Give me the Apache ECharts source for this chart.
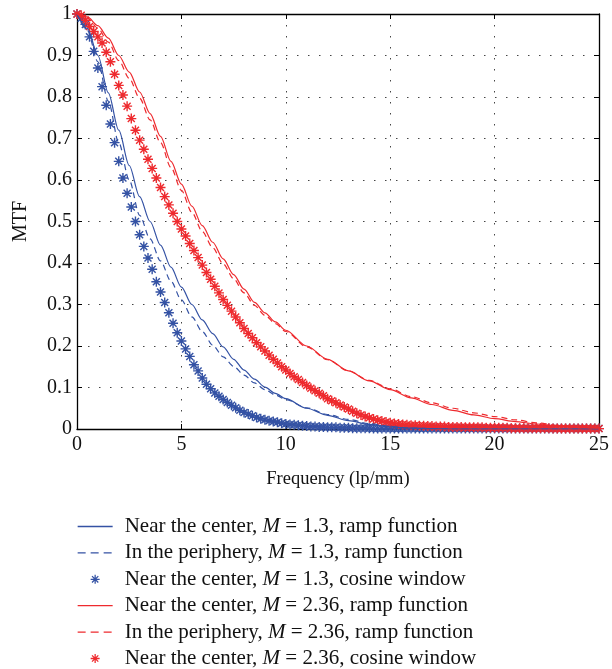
<!DOCTYPE html>
<html>
<head>
<meta charset="utf-8">
<script src="https://cdn.jsdelivr.net/npm/echarts@6/dist/echarts.min.js"></script>
<style>
html,body{margin:0;padding:0;background:#fff;}
#chart{width:612px;height:669px;}
</style>
</head>
<body>
<div id="chart"></div>
<script>
// ---- data ----
var seriesNames = [
  'Near the center, M = 1.3, ramp function',
  'In the periphery, M = 1.3, ramp function',
  'Near the center, M = 1.3, cosine window',
  'Near the center, M = 2.36, ramp function',
  'In the periphery, M = 2.36, ramp function',
  'Near the center, M = 2.36, cosine window'
];
var xTicks = [0, 5, 10, 15, 20, 25];
var yTicks = [0, 0.1, 0.2, 0.3, 0.4, 0.5, 0.6, 0.7, 0.8, 0.9, 1];

// ramp-function curves (frequency, MTF)
var lineFreq = [0, 0.5, 1, 1.5, 2, 2.5, 3, 3.5, 4, 4.5, 5, 5.5, 6, 6.5, 7, 7.5, 8, 8.5, 9, 9.5, 10,
  11, 12, 13, 14, 15, 16, 17, 18, 19, 20, 21, 22, 23, 24, 25];
var centerM13Ramp = [1, 0.965, 0.9, 0.81, 0.72, 0.635, 0.56, 0.5, 0.443, 0.39, 0.342, 0.3, 0.263, 0.23, 0.198, 0.168, 0.142, 0.12, 0.101, 0.086, 0.073,
  0.05, 0.033, 0.02, 0.011, 0.005, 0.002, 0.001, 0, 0, 0, 0, 0, 0, 0, 0];
var periphM13Ramp = [1, 0.96, 0.885, 0.79, 0.69, 0.6, 0.515, 0.458, 0.405, 0.356, 0.311, 0.27, 0.235, 0.202, 0.174, 0.151, 0.13, 0.111, 0.095, 0.082, 0.071,
  0.051, 0.035, 0.023, 0.013, 0.006, 0.002, 0.001, 0, 0, 0, 0, 0, 0, 0, 0];
var centerM236Ramp = [1, 0.993, 0.972, 0.942, 0.9, 0.86, 0.812, 0.76, 0.705, 0.645, 0.59, 0.537, 0.49, 0.45, 0.41, 0.372, 0.337, 0.305, 0.28, 0.258, 0.238,
  0.2, 0.168, 0.14, 0.116, 0.095, 0.075, 0.059, 0.045, 0.034, 0.025, 0.018, 0.012, 0.007, 0.004, 0.002];
var periphM236Ramp = [1, 0.99, 0.966, 0.932, 0.888, 0.845, 0.797, 0.745, 0.69, 0.63, 0.575, 0.522, 0.476, 0.437, 0.398, 0.362, 0.328, 0.298, 0.274, 0.254, 0.235,
  0.198, 0.167, 0.14, 0.117, 0.097, 0.078, 0.063, 0.05, 0.039, 0.03, 0.022, 0.015, 0.009, 0.005, 0.003];

// cosine-window samples (frequency, MTF)
var starFreq = [0,0.2,0.4,0.6,0.8,1,1.2,1.4,1.6,1.8,2,2.2,2.4,2.6,2.8,3,3.2,3.4,3.6,3.8,
  4,4.2,4.4,4.6,4.8,5,5.2,5.4,5.6,5.8,6,6.2,6.4,6.6,6.8,7,7.2,7.4,7.6,7.8,
  8,8.2,8.4,8.6,8.8,9,9.2,9.4,9.6,9.8,10,10.2,10.4,10.6,10.8,11,11.2,11.4,11.6,11.8,
  12,12.2,12.4,12.6,12.8,13,13.2,13.4,13.6,13.8,14,14.2,14.4,14.6,14.8,15,15.2,15.4,15.6,15.8,
  16,16.2,16.4,16.6,16.8,17,17.2,17.4,17.6,17.8,18,18.2,18.4,18.6,18.8,19,19.2,19.4,19.6,19.8,
  20,20.2,20.4,20.6,20.8,21,21.2,21.4,21.6,21.8,22,22.2,22.4,22.6,22.8,23,23.2,23.4,23.6,23.8,
  24,24.2,24.4,24.6,24.8,25];
var centerM13Cos = [1,0.99,0.975,0.945,0.91,0.87,0.825,0.78,0.735,0.69,0.645,0.605,0.568,0.535,0.5,0.468,0.44,0.412,0.385,0.355,
  0.33,0.305,0.28,0.255,0.232,0.212,0.193,0.175,0.155,0.14,0.123,0.108,0.097,0.087,0.079,0.071,0.064,0.057,0.051,0.045,
  0.04,0.036,0.032,0.028,0.025,0.022,0.02,0.018,0.016,0.014,0.012,0.011,0.01,0.009,0.008,0.007,0.006,0.006,0.005,0.005,
  0.004,0.004,0.004,0.003,0.003,0.003,0.002,0.002,0.002,0.002,0.002,0.001,0.001,0.001,0.001,0.001,0.001,0.001,0.001,0.001,
  0.001,0.001,0.001,0.001,0.001,0.001,0.001,0.001,0.001,0.001,0.001,0.001,0.001,0.001,0.001,0.001,0.001,0.001,0.001,0.001,
  0.001,0.001,0.001,0.001,0.001,0.001,0.001,0.001,0.001,0.001,0.001,0.001,0.001,0.001,0.001,0.001,0.001,0.001,0.001,0.001,
  0.001,0.001,0.001,0.001,0.001,0.001];
var centerM236Cos = [1,0.997,0.985,0.97,0.958,0.945,0.93,0.908,0.885,0.855,0.828,0.805,0.778,0.748,0.72,0.696,0.674,0.65,0.628,0.605,
  0.582,0.56,0.54,0.52,0.5,0.482,0.465,0.447,0.43,0.413,0.395,0.377,0.361,0.344,0.328,0.312,0.298,0.284,0.27,0.256,
  0.242,0.23,0.22,0.208,0.198,0.188,0.178,0.168,0.159,0.15,0.142,0.134,0.126,0.119,0.112,0.105,0.098,0.092,0.086,0.08,
  0.073,0.068,0.063,0.058,0.053,0.048,0.043,0.038,0.034,0.03,0.027,0.024,0.021,0.019,0.017,0.015,0.013,0.012,0.011,0.01,
  0.009,0.009,0.008,0.008,0.007,0.007,0.006,0.006,0.006,0.005,0.005,0.005,0.005,0.004,0.004,0.004,0.004,0.004,0.003,0.003,
  0.003,0.003,0.003,0.003,0.002,0.002,0.002,0.002,0.002,0.002,0.002,0.002,0.002,0.002,0.001,0.001,0.001,0.001,0.001,0.001,
  0.001,0.001,0.001,0.001,0.001,0.001];

// ---- chart ----
var BLUE = '#3452a4';
var RED = '#ee2a2e';
var SERIF = '"Liberation Serif", "DejaVu Serif", serif';
var STAR = 'path://M8.6 0L11.4 0L11.4 20L8.6 20Z M0 8.6L20 8.6L20 11.4L0 11.4Z M4 2L18 16L16 18L2 4Z M16 2L18 4L4 18L2 16Z';

function pairs(xs, ys) {
  var out = [];
  for (var i = 0; i < xs.length; i++) out.push([xs[i], ys[i]]);
  return out;
}
function lineSeries(name, ys, color, dash) {
  return {
    name: name, type: 'line', data: pairs(lineFreq, ys),
    symbol: 'none', smooth: 0.3, smoothMonotone: 'x',
    lineStyle: {color: color, width: 1.2, type: dash ? [6, 4] : 'solid'},
    itemStyle: {color: color}
  };
}
function starSeries(name, ys, color) {
  return {
    name: name, type: 'scatter', data: pairs(starFreq, ys),
    symbol: STAR, symbolSize: 10, symbolKeepAspect: true,
    itemStyle: {color: color, opacity: 1}
  };
}
function legendItem(i, dash) {
  var item = {name: seriesNames[i]};
  if (dash !== null) {
    item.itemStyle = {opacity: 0};
    item.lineStyle = {width: 1.3, type: dash ? [8, 5] : 'solid'};
  }
  return item;
}

var chart = echarts.init(document.getElementById('chart'), null, {renderer: 'canvas'});
var tickLabel = {fontFamily: SERIF, fontSize: 20, color: '#111'};
var gridDots = {show: true, lineStyle: {color: '#444', width: 1, type: [1.5, 9.5]}};
chart.setOption({
  animation: false,
  backgroundColor: '#fff',
  grid: {left: 77, right: 8, top: 14, bottom: 240, containLabel: false},
  xAxis: [{
    type: 'value', min: 0, max: 25, interval: 5,
    name: 'Frequency (lp/mm)', nameLocation: 'middle', nameGap: 41,
    nameTextStyle: {fontFamily: SERIF, fontSize: 18.5, color: '#111'},
    axisLine: {show: true, onZero: false, lineStyle: {color: '#000', width: 1.3}},
    axisTick: {show: true, inside: true, length: 5, lineStyle: {color: '#000'}},
    axisLabel: Object.assign({margin: 6, formatter: function (v) { return xTicks.indexOf(v) >= 0 ? String(v) : ''; }}, tickLabel),
    splitLine: gridDots
  }, {
    type: 'value', min: 0, max: 25, interval: 5, position: 'top',
    axisLine: {show: true, onZero: false, lineStyle: {color: '#000', width: 1.3}},
    axisTick: {show: true, inside: true, length: 5, lineStyle: {color: '#000'}},
    axisLabel: {show: false}, splitLine: {show: false}
  }],
  yAxis: [{
    type: 'value', min: 0, max: 1, interval: 0.1,
    name: 'MTF', nameLocation: 'middle', nameGap: 46, nameRotate: 90,
    nameTextStyle: {fontFamily: SERIF, fontSize: 20, color: '#111'},
    axisLine: {show: true, onZero: false, lineStyle: {color: '#000', width: 1.3}},
    axisTick: {show: true, inside: true, length: 5, lineStyle: {color: '#000'}},
    axisLabel: Object.assign({margin: 5, formatter: function (v) { return String(+v.toFixed(1)); }}, tickLabel),
    splitLine: gridDots
  }, {
    type: 'value', min: 0, max: 1, interval: 0.1, position: 'right',
    axisLine: {show: true, onZero: false, lineStyle: {color: '#000', width: 1.3}},
    axisTick: {show: true, inside: true, length: 5, lineStyle: {color: '#000'}},
    axisLabel: {show: false}, splitLine: {show: false}
  }],
  legend: {
    orient: 'vertical', left: 77, top: 516, height: 160, padding: 0,
    itemWidth: 35, itemHeight: 9, itemGap: 5.4,
    textStyle: {
      fontFamily: SERIF, fontSize: 21, color: '#111', lineHeight: 21, padding: [0, 0, 0, 7],
      rich: {i: {fontFamily: SERIF, fontSize: 21, fontStyle: 'italic', color: '#111', lineHeight: 21}}
    },
    formatter: function (name) { return name.replace('M =', '{i|M} ='); },
    data: [legendItem(0, false), legendItem(1, true), legendItem(2, null),
           legendItem(3, false), legendItem(4, true), legendItem(5, null)]
  },
  series: [
    lineSeries(seriesNames[0], centerM13Ramp, BLUE, false),
    lineSeries(seriesNames[1], periphM13Ramp, BLUE, true),
    starSeries(seriesNames[2], centerM13Cos, BLUE),
    lineSeries(seriesNames[3], centerM236Ramp, RED, false),
    lineSeries(seriesNames[4], periphM236Ramp, RED, true),
    starSeries(seriesNames[5], centerM236Cos, RED)
  ]
});
</script>
</body>
</html>
